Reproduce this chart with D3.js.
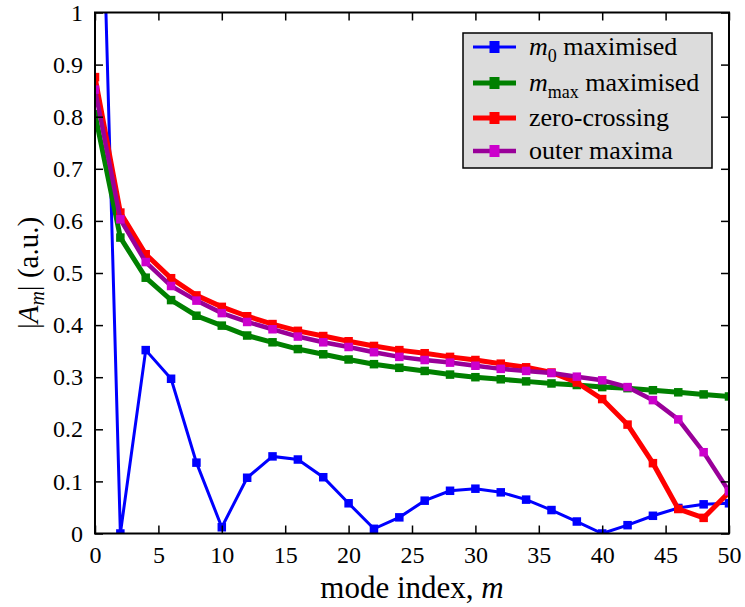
<!DOCTYPE html>
<html>
<head>
<meta charset="utf-8">
<script src="https://cdn.jsdelivr.net/npm/d3@7"></script>
<style>
  html, body { margin: 0; padding: 0; background: #fff; }
  svg { display: block; }
  svg text { font-family: "Liberation Serif", "Tinos", "Times New Roman", Times, "Nimbus Roman", "Nimbus Roman No9 L", "FreeSerif", "DejaVu Serif", "Noto Serif", serif !important; fill: #000; }
</style>
</head>
<body>
<svg id="chart" width="745" height="607"></svg>
<script>
// Mode index m (even modes only)
const modes = [0, 2, 4, 6, 8, 10, 12, 14, 16, 18, 20, 22, 24, 26, 28, 30, 32, 34, 36, 38, 40, 42, 44, 46, 48, 50];

// |A_m| for each optimisation strategy
const m0Maximised = [1.76, 0, 0.352, 0.297, 0.136, 0.012, 0.107, 0.148, 0.142, 0.108, 0.058, 0.009, 0.031, 0.063, 0.082, 0.086, 0.079, 0.065, 0.045, 0.023, 0.0, 0.016, 0.034, 0.049, 0.056, 0.058];
const mmaxMaximised = [0.805, 0.568, 0.491, 0.448, 0.418, 0.399, 0.38, 0.367, 0.354, 0.344, 0.334, 0.325, 0.318, 0.312, 0.305, 0.3, 0.296, 0.292, 0.288, 0.285, 0.281, 0.279, 0.275, 0.271, 0.267, 0.263];
const zeroCrossing = [0.876, 0.616, 0.536, 0.49, 0.457, 0.435, 0.417, 0.402, 0.389, 0.379, 0.369, 0.36, 0.352, 0.346, 0.339, 0.333, 0.326, 0.319, 0.309, 0.29, 0.258, 0.209, 0.135, 0.047, 0.03, 0.079];
const outerMaxima = [0.852, 0.603, 0.521, 0.475, 0.447, 0.423, 0.406, 0.392, 0.378, 0.367, 0.358, 0.348, 0.339, 0.333, 0.328, 0.322, 0.316, 0.312, 0.308, 0.301, 0.294, 0.281, 0.256, 0.219, 0.156, 0.081];

// Axis ticks
const xTicks = [0, 5, 10, 15, 20, 25, 30, 35, 40, 45, 50];
const yTicks = [0, 0.1, 0.2, 0.3, 0.4, 0.5, 0.6, 0.7, 0.8, 0.9, 1];
const yTickLabels = ["0", "0.1", "0.2", "0.3", "0.4", "0.5", "0.6", "0.7", "0.8", "0.9", "1"];

const series = [
  { key: "m0", values: m0Maximised, line: "#0000ff", marker: "#0000ff", width: 3, label: ["m", "0", " maximised"] },
  { key: "mmax", values: mmaxMaximised, line: "#008000", marker: "#008000", width: 5, label: ["m", "max", " maximised"] },
  { key: "zc", values: zeroCrossing, line: "#ff0000", marker: "#ff0000", width: 5, label: [null, null, "zero-crossing"] },
  { key: "om", values: outerMaxima, line: "#990099", marker: "#cc00cc", width: 4.5, label: [null, null, "outer maxima"] }
];

const svg = d3.select("#chart");
const plot = { left: 95, right: 729, top: 12.5, bottom: 533.5 };

const x = d3.scaleLinear().domain([0, 50]).range([plot.left, plot.right]);
const y = d3.scaleLinear().domain([0, 1]).range([plot.bottom, plot.top]);

svg.append("defs").append("clipPath").attr("id", "plotClip")
  .append("rect")
  .attr("x", plot.left).attr("y", plot.top)
  .attr("width", plot.right - plot.left).attr("height", plot.bottom - plot.top);

// Series lines and square markers
const gData = svg.append("g").attr("clip-path", "url(#plotClip)");
const line = d3.line().x((d, i) => x(modes[i])).y(d => y(d));
const ms = 8.5;
series.forEach(s => {
  gData.append("path")
    .datum(s.values)
    .attr("d", line)
    .attr("fill", "none")
    .attr("stroke", s.line)
    .attr("stroke-width", s.width)
    .attr("stroke-linejoin", "miter");
  gData.selectAll(null)
    .data(s.values)
    .enter().append("rect")
    .attr("x", (d, i) => x(modes[i]) - ms / 2)
    .attr("y", d => y(d) - ms / 2)
    .attr("width", ms).attr("height", ms)
    .attr("fill", s.marker);
});

// Axes: ticks pointing inward on all four sides
const tickLen = 8;
const fontTick = 24;
const axBottom = d3.axisBottom(x).tickValues(xTicks).tickSize(-tickLen).tickPadding(12).tickFormat(d3.format("d"));
const axTop = d3.axisTop(x).tickValues(xTicks).tickSize(-tickLen).tickFormat("");
const axLeft = d3.axisLeft(y).tickValues(yTicks).tickSize(-tickLen).tickPadding(12)
  .tickFormat((d, i) => yTickLabels[i]);
const axRight = d3.axisRight(y).tickValues(yTicks).tickSize(-tickLen).tickFormat("");

function styleAxis(g) {
  g.attr("font-family", null);
  g.select(".domain").remove();
  g.selectAll(".tick line").attr("stroke", "#000").attr("stroke-width", 1.5);
  g.selectAll(".tick text").attr("font-size", fontTick).attr("fill", "#000");
}
svg.append("g").attr("transform", `translate(0,${plot.bottom})`).call(axBottom).call(styleAxis);
svg.append("g").attr("transform", `translate(0,${plot.top})`).call(axTop).call(styleAxis);
svg.append("g").attr("transform", `translate(${plot.left},0)`).call(axLeft).call(styleAxis);
svg.append("g").attr("transform", `translate(${plot.right},0)`).call(axRight).call(styleAxis);

// Frame
svg.append("rect")
  .attr("x", plot.left).attr("y", plot.top)
  .attr("width", plot.right - plot.left).attr("height", plot.bottom - plot.top)
  .attr("fill", "none").attr("stroke", "#000").attr("stroke-width", 2);

// Axis titles
const xt = svg.append("text")
  .attr("x", (plot.left + plot.right) / 2).attr("y", 598)
  .attr("text-anchor", "middle").attr("font-size", 31);
xt.append("tspan").text("mode index, ");
xt.append("tspan").attr("font-style", "italic").text("m");

const yt = svg.append("text")
  .attr("transform", `translate(38,${(plot.top + plot.bottom) / 2}) rotate(-90)`)
  .attr("text-anchor", "middle").attr("font-size", 29);
yt.append("tspan").text("|");
yt.append("tspan").attr("font-style", "italic").text("A");
yt.append("tspan").attr("font-style", "italic").attr("font-size", 20).attr("dy", 6).text("m");
yt.append("tspan").attr("dy", -6).text("| (a.u.)");

// Legend
const leg = { x: 463, y: 33, w: 249, h: 135, rowY: [47, 83, 118, 151] };
svg.append("rect")
  .attr("x", leg.x).attr("y", leg.y).attr("width", leg.w).attr("height", leg.h)
  .attr("fill", "#dcdcdc").attr("stroke", "#000").attr("stroke-width", 1.5);

series.forEach((s, i) => {
  const cy = leg.rowY[i];
  const g = svg.append("g");
  g.append("line")
    .attr("x1", 473).attr("x2", 516).attr("y1", cy).attr("y2", cy)
    .attr("stroke", s.line).attr("stroke-width", s.width);
  g.append("rect")
    .attr("x", 494.5 - 5).attr("y", cy - 6).attr("width", 10).attr("height", 12)
    .attr("fill", s.marker);
  const t = g.append("text").attr("x", 529).attr("y", cy + 8).attr("font-size", 26);
  if (s.label[0]) {
    t.append("tspan").attr("font-style", "italic").text(s.label[0]);
    t.append("tspan").attr("font-size", 18).attr("dy", 7).text(s.label[1]);
    t.append("tspan").attr("dy", -7).text(s.label[2]);
  } else {
    t.text(s.label[2]);
  }
});
</script>
</body>
</html>
